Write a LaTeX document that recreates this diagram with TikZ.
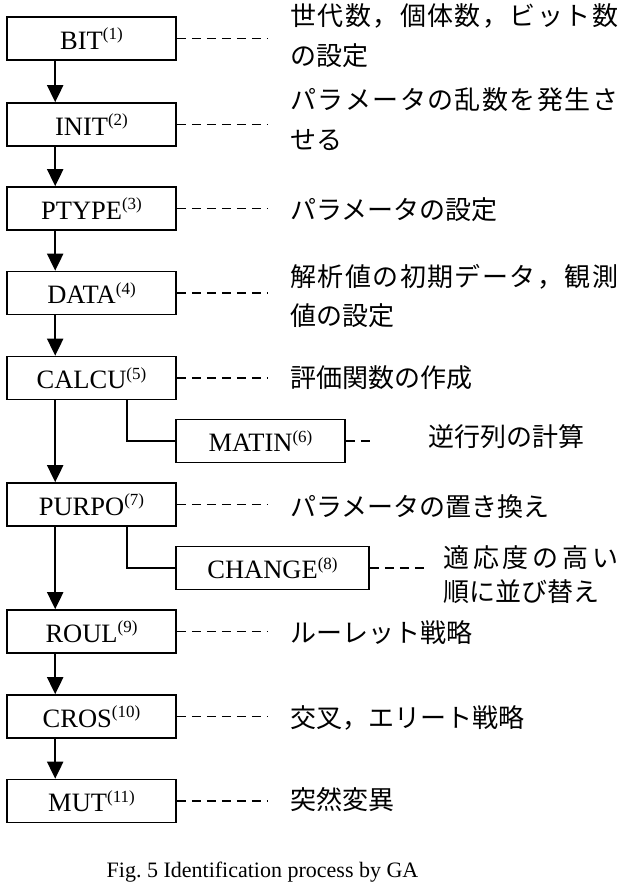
\documentclass[tikz,border=0pt]{standalone}
\usepackage{fontspec}
\setmainfont{Liberation Serif}
\newfontfamily\jp{Noto Sans CJK JP}
\usetikzlibrary{arrows.meta}
\newcommand\mysup[1]{\raisebox{0.36em}{\fontsize{17}{17}\selectfont(#1)}}
\tikzset{
  proc/.style={draw, line width=1.6pt, minimum width=169pt, minimum height=43pt,
    inner sep=0pt, font=\fontsize{26.5}{26.5}\selectfont},
  desc/.style={anchor=west, inner sep=0pt, font=\jp\fontsize{26}{26}\selectfont},
  dashline/.style={line width=1.5pt, dash pattern=on 9pt off 6pt},
  flow/.style={line width=2pt, -{Triangle[length=17pt,width=16pt]}},
  link/.style={line width=1.5pt},
  caption/.style={inner sep=0pt, font=\fontsize{22}{22}\selectfont}
}
\begin{document}
\begin{tikzpicture}[x=1pt,y=-1pt]
\useasboundingbox (0,0) rectangle (624,889);
\fill[white] (0,0) rectangle (624,889);

% main column boxes
\node[proc] (bit)   at (91.5,38.5)  {BIT\mysup{1}};
\node[proc] (init)  at (91.5,124.5) {INIT\mysup{2}};
\node[proc] (ptype) at (91.5,208.5) {PTYPE\mysup{3}};
\node[proc] (data)  at (91.5,293)   {DATA\mysup{4}};
\node[proc] (calcu) at (91.5,378)   {CALCU\mysup{5}};
\node[proc] (matin) at (260.5,441)  {MATIN\mysup{6}};
\node[proc] (purpo) at (91.5,504.5) {PURPO\mysup{7}};
\node[proc, minimum width=193pt] (change) at (272.5,568) {CHANGE\mysup{8}};
\node[proc] (roul)  at (91.5,631.5) {ROUL\mysup{9}};
\node[proc] (cros)  at (91.5,716.5) {CROS\mysup{10}};
\node[proc] (mut)   at (91.5,801)   {MUT\mysup{11}};

% flow arrows
\foreach \a/\b in {bit/init, init/ptype, ptype/data, data/calcu, calcu/purpo, purpo/roul, roul/cros, cros/mut}
  \draw[flow] ([xshift=49pt]\a.south west) -- ([xshift=49pt]\b.north west);

% side links
\draw[link] ([xshift=121pt]calcu.south west) |- (matin.west);
\draw[link] ([xshift=121pt]purpo.south west) |- (change.west);

% dash ends
\coordinate (dend) at (267,0);
\coordinate (dendm) at (372,0);
\coordinate (dendc) at (427,0);
\foreach \n in {bit, init, ptype, data, calcu, purpo, roul, cros, mut}
  \draw[dashline] (\n.east) -- (\n.east -| dend);
\draw[dashline] (matin.east) -- (matin.east -| dendm);
\draw[dashline] (change.east) -- (change.east -| dendc);

% descriptions
\node[desc] (d1a) at (290,16) {\makebox[328pt][s]{世\hfill 代\hfill 数\hfill ，\hfill 個\hfill 体\hfill 数\hfill ，\hfill ビ\hfill ッ\hfill ト\hfill 数}};
\node[desc] (d1b) at (290,56) {の設定};
\node[desc] (d2a) at (290,100) {\makebox[328pt][s]{パ\hfill ラ\hfill メ\hfill ー\hfill タ\hfill の\hfill 乱\hfill 数\hfill を\hfill 発\hfill 生\hfill さ}};
\node[desc] (d2b) at (290,140) {せる};
\node[desc] (d3) at (290,210) {パラメータの設定};
\node[desc] (d4a) at (290,277) {\makebox[328pt][s]{解\hfill 析\hfill 値\hfill の\hfill 初\hfill 期\hfill デ\hfill ー\hfill タ\hfill ，\hfill 観\hfill 測}};
\node[desc] (d4b) at (290,316) {値の設定};
\node[desc] (d5) at (290,378) {評価関数の作成};
\node[desc] (d6) at (428,437) {逆行列の計算};
\node[desc] (d7) at (290,507) {パラメータの置き換え};
\node[desc] (d8a) at (443,558) {\makebox[175pt][s]{適\hfill 応\hfill 度\hfill の\hfill 高\hfill い}};
\node[desc] (d8b) at (443,592) {順に並び替え};
\node[desc] (d9) at (290,633) {ルーレット戦略};
\node[desc] (d10) at (290,718) {交叉，エリート戦略};
\node[desc] (d11) at (290,800) {突然変異};

% caption
\node[caption] (cap) at (262.5,872) {Fig.~5 Identification process by GA};
\end{tikzpicture}
\end{document}
